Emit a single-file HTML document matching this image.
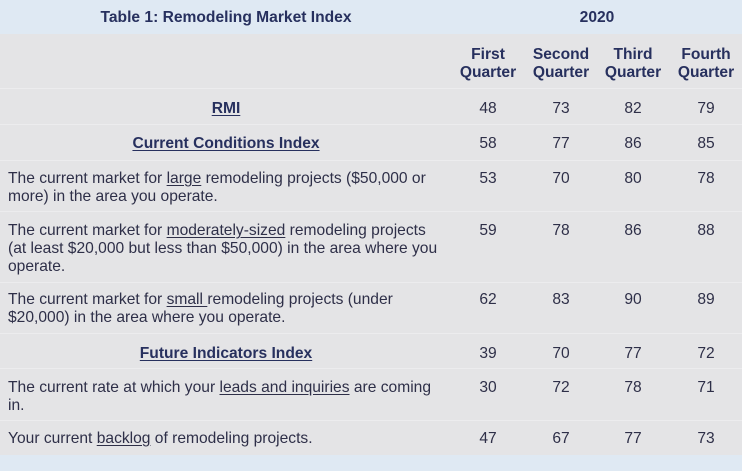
<!DOCTYPE html>
<html><head><meta charset="utf-8"><style>
body{margin:0;width:742px;height:471px;overflow:hidden;background:#e4e4e6;font-family:"Liberation Sans",Arial,sans-serif;position:relative}
.band{position:absolute;left:0;width:742px;background:#dfe9f3}
.t{position:absolute;color:#2e2f48;font-size:15.6px;line-height:18px;white-space:nowrap}
.h{color:#27305e;font-weight:bold}
.c{transform:translateX(-50%);text-align:center}
.line{position:absolute;left:0;width:742px;height:1px;background:#ececee}
u{text-underline-offset:2px}
</style></head><body>
<div class="band" style="top:0;height:34px"></div>
<div class="band" style="top:455px;height:16px"></div>
<div class="t h c" style="left:226px;top:9px">Table 1: Remodeling Market Index</div>
<div class="t h c" style="left:597px;top:9px">2020</div>
<div class="line" style="top:88px"></div><div class="line" style="top:124px"></div><div class="line" style="top:160px"></div><div class="line" style="top:211px"></div><div class="line" style="top:282px"></div><div class="line" style="top:333px"></div><div class="line" style="top:368px"></div><div class="line" style="top:420px"></div>
<div id="tbl"></div>
<script>
const quarters=["First Quarter","Second Quarter","Third Quarter","Fourth Quarter"];
const rowLabels=["<u>RMI</u>","<u>Current Conditions Index</u>","The current market for <u>large</u> remodeling projects ($50,000 or<br>more) in the area you operate.","The current market for <u>moderately-sized</u> remodeling projects<br>(at least $20,000 but less than $50,000) in the area where you<br>operate.","The current market for <u>small </u>remodeling projects (under<br>$20,000) in the area where you operate.","<u>Future Indicators Index</u>","The current rate at which your <u>leads and inquiries</u> are coming<br>in.","Your current <u>backlog</u> of remodeling projects."];
const q1=[48,58,53,59,62,39,30,47];
const q2=[73,77,70,78,83,70,72,67];
const q3=[82,86,80,86,90,77,78,77];
const q4=[79,85,78,88,89,72,71,73];
const isHeading=[true,true,false,false,false,true,false,false];
const rowTops=[100,135,170,222,291,345,379,430];
const colX=[488,561,633,706];
const root=document.getElementById('tbl');
quarters.forEach((q,i)=>{const d=document.createElement('div');d.className='t h c';d.style.left=colX[i]+'px';d.style.top='46px';d.innerHTML=q.replace(' ','<br>');


root.appendChild(d);});
const series=[q1,q2,q3,q4];
rowLabels.forEach((lab,r)=>{const d=document.createElement('div');
d.className=isHeading[r]?'t h c':'t';
d.style.left=isHeading[r]?'226px':'8px';d.style.top=rowTops[r]+'px';d.innerHTML=lab;


root.appendChild(d);
series.forEach((s,i)=>{const v=document.createElement('div');v.className='t c';v.style.left=colX[i]+'px';v.style.top=rowTops[r]+'px';v.textContent=s[r];


root.appendChild(v);});});
</script>
</body></html>
